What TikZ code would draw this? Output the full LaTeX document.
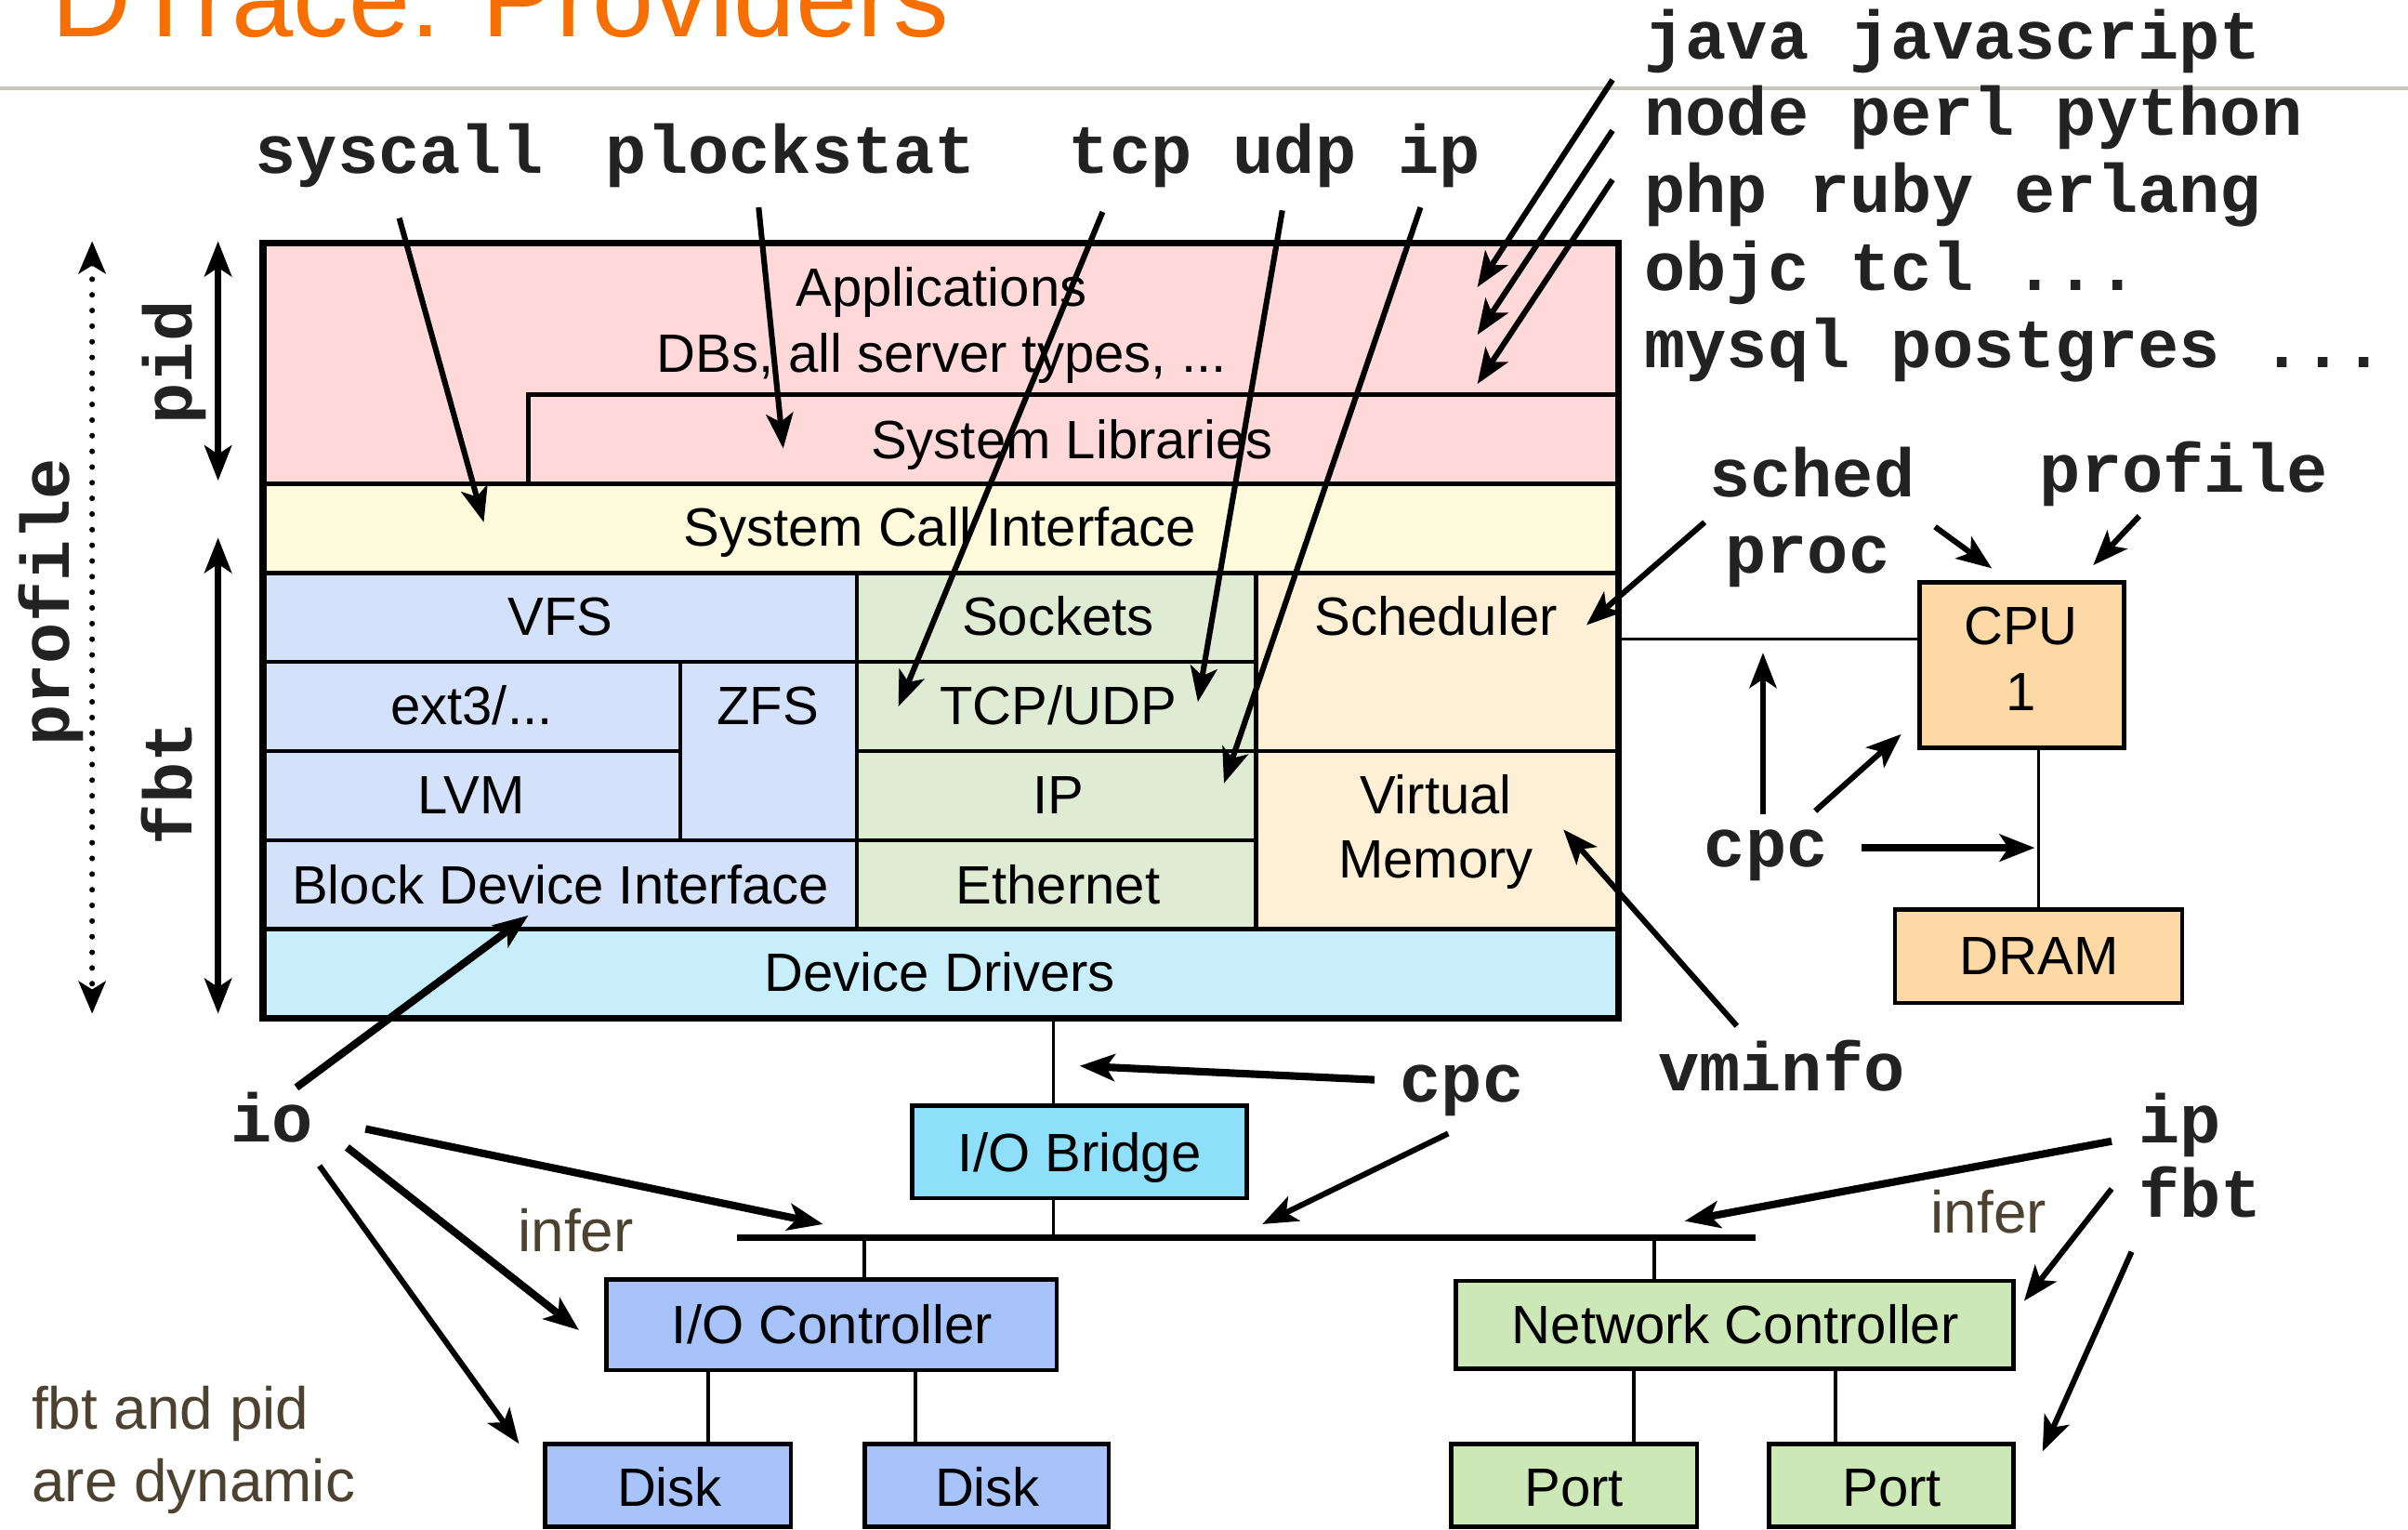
\documentclass[tikz,border=0pt]{standalone}
\usepackage{fontspec}
\setmainfont{Liberation Sans}
\newfontfamily\codefont{Liberation Mono}
\usetikzlibrary{arrows.meta, fit}

\definecolor{appc}{HTML}{FFD9D9}
\definecolor{sysc}{HTML}{FDFBDC}
\definecolor{fsc}{HTML}{D3E1FA}
\definecolor{netc}{HTML}{E0EBD4}
\definecolor{schc}{HTML}{FEF0D6}
\definecolor{drvc}{HTML}{C8EEFC}
\definecolor{cpuc}{HTML}{FDD9A6}
\definecolor{brc}{HTML}{8EE0FA}
\definecolor{ioc}{HTML}{A7C3FA}
\definecolor{nicc}{HTML}{CDE8B7}
\definecolor{titlec}{HTML}{F66F00}
\definecolor{rulec}{HTML}{C9C5BF}
\definecolor{notec}{HTML}{4B4230}
\definecolor{codec}{HTML}{222222}

\tikzset{
  cellbox/.style={draw=black, line width=0.8pt, inner sep=0pt},
  txt/.style={font=\fontsize{10}{12}\selectfont, inner sep=0pt, text height=0.72em, text depth=0pt},
  note/.style={txt, font=\fontsize{11}{13}\selectfont, text=notec},
  code/.style={font=\codefont\bfseries\fontsize{12.7}{14}\selectfont, inner sep=0pt,
               text height=0.75em, text depth=0pt, text=codec},
  ptr/.style={-{Stealth[length=6.5pt,width=5pt,inset=1.6pt]}, line width=1.05pt},
  ptrb/.style={ptr, line width=1.4pt},
  span/.style={{Stealth[length=6.5pt,width=5pt,inset=1.6pt]}-{Stealth[length=6.5pt,width=5pt,inset=1.6pt]}, line width=1.3pt},
  wire/.style={line width=0.65pt},
}
% a filled, outlined box spanning two corner points
\newcommand\cell[4]{\node[cellbox, fill=#2, fit={#3 #4}] (#1) {};}

\begin{document}
\begin{tikzpicture}[x=0.1mm, y=-0.1mm]
\useasboundingbox (0,0) rectangle (1568,996);
\fill[white] (0,0) rectangle (1568,996);

% title and rule
\node[anchor=base west, inner sep=0pt, font=\fontsize{20.5}{21}\selectfont, text=titlec] (title) at (33,24) {DTrace: Providers};
\coordinate (ruleL) at (0,57.5);
\coordinate (ruleR) at (1568,57.5);
\draw[rulec, line width=0.7pt] (ruleL) -- (ruleR);

% software stack
\cell{apps}{appc}{(172,159)}{(1053,315)}
\cell{libs}{appc}{(344,257)}{(1053,315)}
\cell{sci}{sysc}{(172,315)}{(1053,373)}
\cell{vfs}{fsc}{(172,373)}{(558,431)}
\cell{ext}{fsc}{(172,431)}{(443,489)}
\cell{lvm}{fsc}{(172,489)}{(443,547)}
\cell{zfs}{fsc}{(443,431)}{(558,547)}
\cell{bdi}{fsc}{(172,547)}{(558,605)}
\cell{sock}{netc}{(558,373)}{(818,431)}
\cell{tcpudp}{netc}{(558,431)}{(818,489)}
\cell{ipl}{netc}{(558,489)}{(818,547)}
\cell{eth}{netc}{(558,547)}{(818,605)}
\cell{sched}{schc}{(818,373)}{(1053,489)}
\cell{vm}{schc}{(818,489)}{(1053,605)}
\cell{drv}{drvc}{(172,605)}{(1053,662)}
\draw[line width=0.95pt] (apps.north west) rectangle (drv.south east);

\node[txt] (tapps) at (613,187) {Applications};
\node[txt] (tdbs) at (613,230) {DBs, all server types, ...};
\node[txt] (tlibs) at (698,286) {System Libraries};
\node[txt] (tsci) at (612,343) {System Call Interface};
\node[txt] (tvfs) at (365,401) {VFS};
\node[txt] (tsock) at (689,401) {Sockets};
\node[txt] (tsched) at (935,401) {Scheduler};
\node[txt] (text3) at (307,459) {ext3/...};
\node[txt] (tzfs) at (500,459) {ZFS};
\node[txt] (ttcp) at (689,459) {TCP/UDP};
\node[txt] (tlvm) at (307,517) {LVM};
\node[txt] (tip) at (689,517) {IP};
\node[txt] (tvm1) at (935,517) {Virtual};
\node[txt] (tvm2) at (935,559) {Memory};
\node[txt] (tbdi) at (365,576) {Block Device Interface};
\node[txt] (teth) at (689,576) {Ethernet};
\node[txt] (tdrv) at (612,633) {Device Drivers};

% CPU and memory
\cell{cpu}{cpuc}{(1250,379)}{(1383,487)}
\node[txt] (tcpu) at (1316,407) {CPU};
\node[txt] (tone) at (1316,450) {1};
\cell{dram}{cpuc}{(1234,592)}{(1421,653)}
\node[txt] (tdram) at (1328,622) {DRAM};
\coordinate (schedtap) at (1053,416);
\draw[wire] (schedtap) -- (schedtap -| cpu.west);
\draw[wire] (dram.north) -- (dram.north |- cpu.south);

% I/O hardware
\cell{bridge}{brc}{(594,720)}{(812,780)}
\node[txt] (tbridge) at (703,750) {I/O Bridge};
\coordinate (drvtap) at (686,662);
\coordinate (bustap) at (686,806);
\draw[wire] (drvtap) -- (drvtap |- bridge.north);
\draw[wire] (drvtap |- bridge.south) -- (bustap);
\coordinate (busL) at (480,806);
\coordinate (busR) at (1143,806);
\draw[line width=1.2pt] (busL) -- (busR);

\cell{ioctl}{ioc}{(395,833)}{(688,892)}
\node[txt] (tioctl) at (542,862) {I/O Controller};
\cell{disk1}{ioc}{(355,940)}{(515,994)}
\node[txt] (tdisk1) at (436,968) {Disk};
\cell{disk2}{ioc}{(563,940)}{(722,994)}
\node[txt] (tdisk2) at (643,968) {Disk};
\draw[wire] (563,806) -- (563,833);
\draw[wire] (461,892) -- (461,940);
\draw[wire] (596,892) -- (596,940);

\cell{nic}{nicc}{(948,834)}{(1311,891)}
\node[txt] (tnic) at (1130,862) {Network Controller};
\cell{port1}{nicc}{(945,940)}{(1105,994)}
\node[txt] (tport1) at (1025,968) {Port};
\cell{port2}{nicc}{(1152,940)}{(1311,994)}
\node[txt] (tport2) at (1232,968) {Port};
\draw[wire] (1077,806) -- (1077,834);
\draw[wire] (1064,891) -- (1064,940);
\draw[wire] (1195,891) -- (1195,940);

% provider names
\node[code] (psyscall) at (260,100) {syscall};
\node[code] (pplock) at (515,100) {plockstat};
\node[code] (ptcp) at (736,100) {tcp};
\node[code] (pudp) at (843,100) {udp};
\node[code] (pip) at (937,100) {ip};
\node[code, anchor=west] (lang1) at (1070,25) {java javascript};
\node[code, anchor=west] (lang2) at (1070,75) {node perl python};
\node[code, anchor=west] (lang3) at (1070,125) {php ruby erlang};
\node[code, anchor=west] (lang4) at (1070,176) {objc tcl ...};
\node[code, anchor=west] (lang5) at (1070,226) {mysql postgres ...};
\node[code] (psched) at (1180,310) {sched};
\node[code] (pproc) at (1177,360) {proc};
\node[code] (pprofile) at (1422,307) {profile};
\node[code] (pcpc1) at (1150,551) {cpc};
\node[code] (pvminfo) at (1160,697) {vminfo};
\node[code] (pcpc2) at (952,704) {cpc};
\node[code] (pio) at (177,730) {io};
\node[code, anchor=west] (pip2) at (1392,731) {ip};
\node[code, anchor=west] (pfbt2) at (1392,779) {fbt};
\node[code, rotate=90] (lprofile) at (32,392) {profile};
\node[code, rotate=90] (lpid) at (112,236) {pid};
\node[code, rotate=90] (lfbt) at (112,510) {fbt};

\node[note] (infer1) at (375,802) {infer};
\node[note] (infer2) at (1295,790) {infer};
\node[note, anchor=west] (dyn1) at (20,918) {fbt and pid};
\node[note, anchor=west] (dyn2) at (20,965) {are dynamic};

% scope markers on the left
\coordinate (profT) at (60,157);
\coordinate (profB) at (60,660);
\draw[{Stealth[length=6pt,width=5pt,inset=1.5pt]}-{Stealth[length=6pt,width=5pt,inset=1.5pt]},
      line width=1.05pt, line cap=round, dash pattern=on 0pt off 2.9pt] (profT) -- (profB);
\coordinate (pidT) at (142,157);
\coordinate (pidB) at (142,313);
\draw[span] (pidT) -- (pidB);
\coordinate (fbtT) at (142,350);
\coordinate (fbtB) at (142,660);
\draw[span] (fbtT) -- (fbtB);

% probe arrows
\coordinate (a1s) at (260,142);  \coordinate (a1e) at (315,340);
\coordinate (a2s) at (494,135);  \coordinate (a2e) at (510,292);
\coordinate (a3s) at (718,138);  \coordinate (a3e) at (585,460);
\coordinate (a4s) at (835,137);  \coordinate (a4e) at (780,457);
\coordinate (a5s) at (925,135);  \coordinate (a5e) at (797,510);
\draw[ptr] (a1s) -- (a1e);
\draw[ptr] (a2s) -- (a2e);
\draw[ptr] (a3s) -- (a3e);
\draw[ptr] (a4s) -- (a4e);
\draw[ptr] (a5s) -- (a5e);

\coordinate (l1s) at (1050,52);  \coordinate (l1e) at (962,187);
\coordinate (l2s) at (1050,85);  \coordinate (l2e) at (962,218);
\coordinate (l3s) at (1050,117); \coordinate (l3e) at (962,250);
\draw[ptr] (l1s) -- (l1e);
\draw[ptr] (l2s) -- (l2e);
\draw[ptr] (l3s) -- (l3e);

\coordinate (s1s) at (1110,340); \coordinate (s1e) at (1033,407);
\coordinate (s2s) at (1260,343); \coordinate (s2e) at (1297,370);
\coordinate (s3s) at (1393,336); \coordinate (s3e) at (1363,368);
\draw[ptr] (s1s) -- (s1e);
\draw[ptr] (s2s) -- (s2e);
\draw[ptr] (s3s) -- (s3e);

\coordinate (c1s) at (1148,530); \coordinate (c1e) at (1148,425);
\coordinate (c2s) at (1182,528); \coordinate (c2e) at (1238,478);
\coordinate (c3s) at (1212,552); \coordinate (c3e) at (1325,552);
\draw[ptr] (c1s) -- (c1e);
\draw[ptr] (c2s) -- (c2e);
\draw[ptrb] (c3s) -- (c3e);

\coordinate (v1s) at (1131,668); \coordinate (v1e) at (1018,540);
\draw[ptr] (v1s) -- (v1e);

\coordinate (b1s) at (895,703);  \coordinate (b1e) at (703,694);
\coordinate (b2s) at (943,738);  \coordinate (b2e) at (822,797);
\draw[ptrb] (b1s) -- (b1e);
\draw[ptr] (b2s) -- (b2e);

\coordinate (i1s) at (193,708);  \coordinate (i1e) at (344,596);
\coordinate (i2s) at (238,735);  \coordinate (i2e) at (536,797);
\coordinate (i3s) at (226,747);  \coordinate (i3e) at (377,866);
\coordinate (i4s) at (208,759);  \coordinate (i4e) at (338,940);
\draw[ptrb] (i1s) -- (i1e);
\draw[ptrb] (i2s) -- (i2e);
\draw[ptrb] (i3s) -- (i3e);
\draw[ptr] (i4s) -- (i4e);

\coordinate (n1s) at (1375,743); \coordinate (n1e) at (1097,795);
\coordinate (n2s) at (1375,774); \coordinate (n2e) at (1318,847);
\coordinate (n3s) at (1388,815); \coordinate (n3e) at (1330,945);
\draw[ptrb] (n1s) -- (n1e);
\draw[ptr] (n2s) -- (n2e);
\draw[ptr] (n3s) -- (n3e);
\end{tikzpicture}
\end{document}
